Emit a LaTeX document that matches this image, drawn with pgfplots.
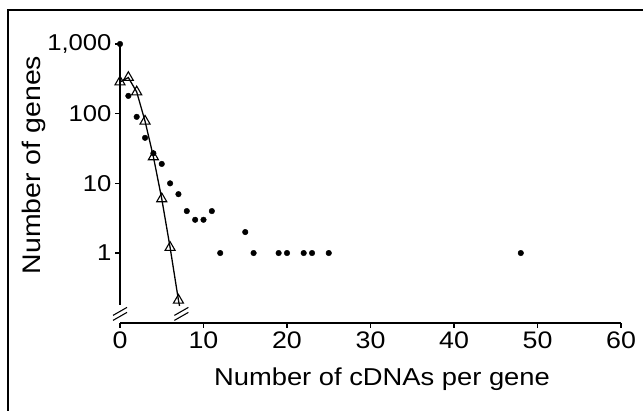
\documentclass[border=0pt]{standalone}
\usepackage{fontspec}
\setmainfont[FakeStretch=1.12]{Liberation Sans}
\usepackage{pgfplots}
\pgfplotsset{compat=1.18}

\pgfplotstableread{
x y
0 1000
1 180
2 90
3 45
4 27
5 19
6 10
7 7
8 4
9 3
10 3
11 4
12 1
15 2
16 1
19 1
20 1
22 1
23 1
25 1
48 1
}\dots

\pgfplotstableread{
x y
0 285
1 330
2 205
3 78
4 24
5 6
6 1.2
7 0.21
}\tri

\begin{document}
\begin{tikzpicture}[x=1bp,y=1bp]
\useasboundingbox (0,0) rectangle (643,410);
% frame
\draw[line width=1.4bp] (8,-5) -- (8,400) -- (650,400);

\begin{axis}[
    at={(120bp,87.3bp)}, anchor=south west,
    scale only axis,
    width=501bp, height=278.7bp,
    xmin=0, xmax=60,
    ymode=log, ymin=0.1, ymax=1000,
    axis x line*=bottom, axis y line*=left,
    x axis line style={line width=1.6bp, -},
    y axis line style={draw=none},
    xtick={0,10,...,60},
    ytick={1,10,100,1000},
    yticklabels={1,10,100,{1,000}},
    yminorticks=false,
    tick align=outside,
    major tick length=5bp,
    tick style={line width=1.3bp, black},
    /pgf/number format/assume math mode=true,
    xticklabel style={font=\fontsize{24}{28}\selectfont, yshift=-1bp},
    yticklabel style={font=\fontsize{23}{27}\selectfont},
    clip=false,
]
% y axis with break
\draw[line width=1.6bp] (axis cs:0,1000) -- (axis cs:0,0.18);
\draw[line width=1.1bp, shift={(axis cs:0,0.136)}]
    (-7bp,-2bp) -- (7bp,6bp) (-7bp,-7bp) -- (7bp,1bp);

\addplot[black, line width=1.3bp, mark=triangle, mark size=5.8bp,
    mark options={fill=white, line width=1.1bp}] table {\tri};
\draw[black, line width=1.3bp] (axis cs:7,0.21) -- (axis cs:7.13,0.174);
\draw[line width=1.1bp, shift={(axis cs:7.35,0.136)}]
    (-7bp,-2bp) -- (7bp,6bp) (-7bp,-7bp) -- (7bp,1bp);

\addplot[only marks, mark=*, mark size=2.8bp, black] table {\dots};
\end{axis}

\node[anchor=base, font=\fontsize{24.5}{28}\selectfont] at (382,25) {Number of cDNAs per gene};
\node[anchor=base, rotate=90, font=\fontsize{25.5}{30}\selectfont] at (40,245) {Number of genes};
\end{tikzpicture}
\end{document}
